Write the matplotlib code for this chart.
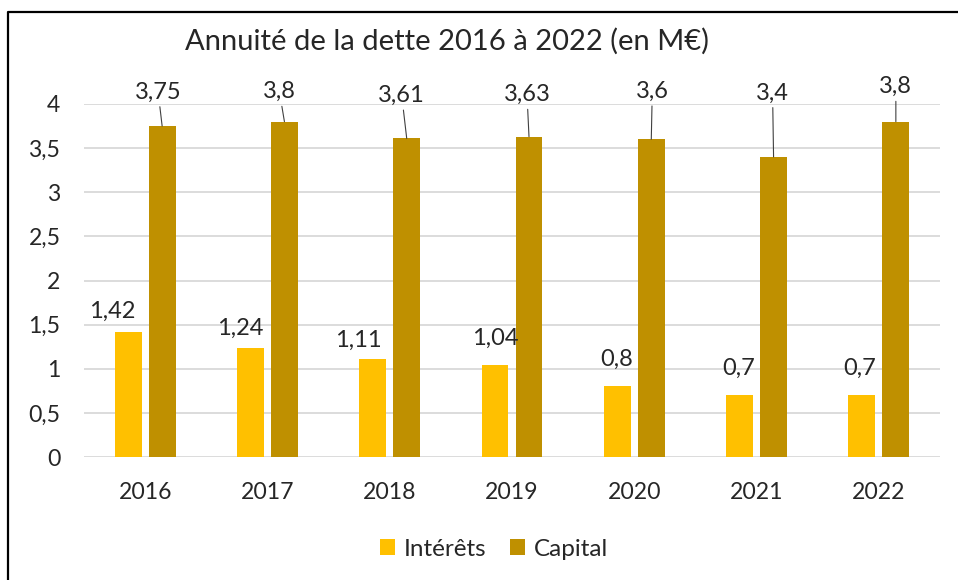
import numpy as np
import matplotlib
matplotlib.use("Agg")
import matplotlib.pyplot as plt
from matplotlib.lines import Line2D

plt.rcParams['font.family'] = ['Lato', 'DejaVu Sans']

# data
years = ['2016', '2017', '2018', '2019', '2020', '2021', '2022']
interets = [1.42, 1.24, 1.11, 1.04, 0.8, 0.7, 0.7]
capital = [3.75, 3.8, 3.61, 3.63, 3.6, 3.4, 3.8]
interets_txt = ['1,42', '1,24', '1,11', '1,04', '0,8', '0,7', '0,7']
capital_txt = ['3,75', '3,8', '3,61', '3,63', '3,6', '3,4', '3,8']
yticks = [0, 0.5, 1, 1.5, 2, 2.5, 3, 3.5, 4]
ytick_txt = ['0', '0,5', '1', '1,5', '2', '2,5', '3', '3,5', '4']

# label placement (pixels, label centre relative to bar top)
int_off = [(-16, 20), (-10, 19), (-14, 19), (0, 27), (-1, 27), (-1, 27), (-2, 27)]
cap_off = [(-4, 34), (-5, 30), (-5, 43), (-2, 42), (1, 48), (-1, 64), (0, 35)]

c_int = '#FFC000'
c_cap = '#BF9000'
txt = '#262626'
px = 72 / 100.0

fig = plt.figure(figsize=(9.58, 5.8), dpi=100)
ax = fig.add_axes([84 / 958, 1 - 457 / 580, (940 - 84) / 958, (457 - 104) / 580])

x = np.arange(len(years))
w = 0.22
off = 0.139
ax.bar(x - off, interets, w, color=c_int, label='Intérêts', zorder=3)
ax.bar(x + off, capital, w, color=c_cap, label='Capital', zorder=3)

ax.set_xlim(-0.5, len(years) - 0.5)
ax.set_ylim(0, 4)
ax.set_yticks(yticks)
ax.set_yticklabels(ytick_txt)
ax.set_xticks(x)
ax.set_xticklabels(years)
ax.tick_params(axis='y', length=0, pad=17, labelsize=16.6, labelcolor=txt)
ax.tick_params(axis='x', length=0, pad=18, labelsize=16.6, labelcolor=txt)
ax.yaxis.grid(True, color='#D9D9D9', linewidth=1.3, zorder=0)
for s in ax.spines.values():
    s.set_visible(False)

for i in range(len(years)):
    dx, dy = int_off[i]
    ax.annotate(interets_txt[i], xy=(x[i] - off, interets[i]),
                xytext=(dx * px, dy * px), textcoords='offset points',
                ha='center', va='center', fontsize=17, color=txt)
    dx, dy = cap_off[i]
    ax.annotate(capital_txt[i], xy=(x[i] + off, capital[i]),
                xytext=(dx * px, dy * px), textcoords='offset points',
                ha='center', va='center', fontsize=17, color=txt,
                annotation_clip=False,
                arrowprops=dict(arrowstyle='-', color='#404040', lw=0.8,
                                shrinkA=1, shrinkB=0))

fig.text(447 / 958, 1 - 41 / 580, 'Annuité de la dette 2016 à 2022 (en M€)',
         ha='center', va='center', fontsize=21, color=txt)

fig.legend(loc='center', bbox_to_anchor=(494 / 958, 1 - 549 / 580), ncol=2,
           frameon=False, fontsize=17.5, handlelength=0.6, handleheight=0.6,
           handletextpad=0.35, columnspacing=1.0, labelcolor=txt)

# outer frame (partly cropped in the original)
fig.add_artist(Line2D([8 / 958, 8 / 958, 1.0], [0.0, 1 - 12 / 580, 1 - 12 / 580],
                      transform=fig.transFigure, color='black', linewidth=1.6))

fig.savefig('out.png', dpi=100)
